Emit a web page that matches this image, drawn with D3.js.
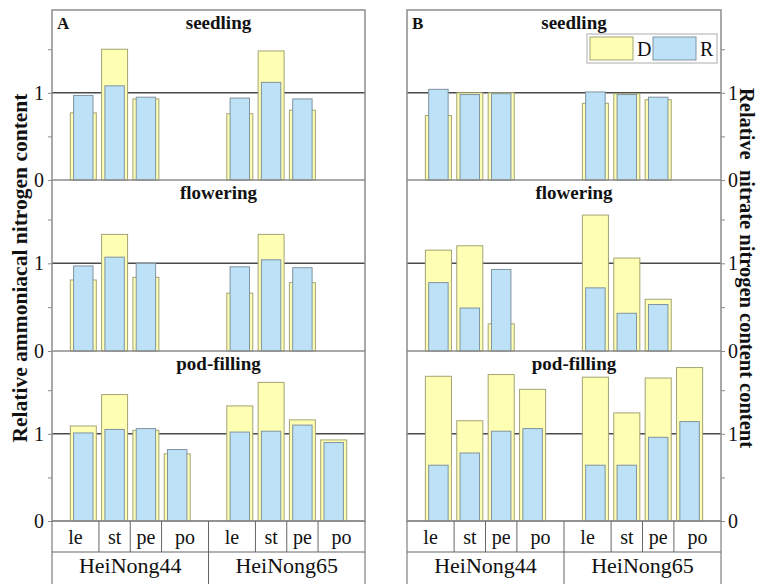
<!DOCTYPE html>
<html>
<head>
<meta charset="utf-8">
<script src="https://cdn.jsdelivr.net/npm/d3@7"></script>
<style>
  body { margin: 0; background: #fff; }
  text { font-family: "Liberation Serif", "Times New Roman", serif; fill: #111; }
</style>
</head>
<body>
<div id="chart"></div>
<script>
// categories
const organs = ["le", "st", "pe", "po"];
const cultivars = ["HeiNong44", "HeiNong65"];
const stages = ["seedling", "flowering", "pod-filling"];
const panels = ["A", "B"];
const seriesNames = ["D", "R"];
const tickVals = [0, 0.5, 1, 1.5];

// relative ammoniacal nitrogen (panel A), order: HN44 le st pe po, HN65 le st pe po
const ammD_seedling  = [0.77, 1.50, 0.93, null, 0.76, 1.48, 0.80, null];
const ammR_seedling  = [0.97, 1.08, 0.95, null, 0.94, 1.12, 0.93, null];
const ammD_flowering = [0.81, 1.33, 0.84, null, 0.66, 1.33, 0.78, null];
const ammR_flowering = [0.97, 1.07, 1.00, null, 0.96, 1.04, 0.95, null];
const ammD_podfill   = [1.09, 1.45, 1.04, 0.77, 1.32, 1.59, 1.16, 0.93];
const ammR_podfill   = [1.01, 1.05, 1.06, 0.82, 1.02, 1.03, 1.10, 0.90];

// relative nitrate nitrogen (panel B)
const nitD_seedling  = [0.74, 1.00, 1.00, null, 0.88, 0.99, 0.92, null];
const nitR_seedling  = [1.04, 0.98, 0.99, null, 1.01, 0.98, 0.95, null];
const nitD_flowering = [1.15, 1.20, 0.31, null, 1.55, 1.06, 0.59, null];
const nitR_flowering = [0.78, 0.49, 0.93, null, 0.72, 0.43, 0.53, null];
const nitD_podfill   = [1.66, 1.15, 1.68, 1.51, 1.65, 1.24, 1.64, 1.76];
const nitR_podfill   = [0.64, 0.78, 1.03, 1.06, 0.64, 0.64, 0.96, 1.14];

const panelData = [
  [[ammD_seedling, ammR_seedling], [ammD_flowering, ammR_flowering], [ammD_podfill, ammR_podfill]],
  [[nitD_seedling, nitR_seedling], [nitD_flowering, nitR_flowering], [nitD_podfill, nitR_podfill]]
];

const W = 757, H = 584;
const colD = "#ffffb4", strokeD = "#a3a374";
const colR = "#bde1f7", strokeR = "#8093a0";
const frameCol = "#8c8c8c";

const svg = d3.select("#chart").append("svg")
  .attr("width", W).attr("height", H);

const panelX = [[52, 365], [407, 721]];
const rowTop = [10, 180, 351], rowBot = [180, 351, 521];
const tableRow1 = 552, tableBottom = 600;

// slot index: cultivar * 5 + organ
const slotOf = i => Math.floor(i / 4) * 5 + (i % 4);

panels.forEach((pName, p) => {
  const x = d3.scaleLinear().domain([-1, 9]).range(panelX[p]);
  const slotW = x(1) - x(0);
  const wD = slotW * 0.83, wR = slotW * 0.62;

  stages.forEach((stage, s) => {
    const y = d3.scaleLinear().domain([0, 1.95]).range([rowBot[s], rowTop[s]]);
    const g = svg.append("g");

    // reference line at 1
    g.append("line")
      .attr("x1", x(-1)).attr("x2", x(9))
      .attr("y1", y(1)).attr("y2", y(1))
      .attr("stroke", "#4a4a4a").attr("stroke-width", 1.5);

    const [dVals, rVals] = panelData[p][s];
    const pts = dVals.map((d, i) => ({ i, d, r: rVals[i] })).filter(o => o.d != null);

    g.selectAll("rect.d").data(pts).join("rect")
      .attr("class", "d")
      .attr("x", o => x(slotOf(o.i)) - wD / 2)
      .attr("width", wD)
      .attr("y", o => y(o.d))
      .attr("height", o => y(0) - y(o.d))
      .attr("fill", colD).attr("stroke", strokeD).attr("stroke-width", 1);

    g.selectAll("rect.r").data(pts).join("rect")
      .attr("class", "r")
      .attr("x", o => x(slotOf(o.i)) - wR / 2)
      .attr("width", wR)
      .attr("y", o => y(o.r))
      .attr("height", o => y(0) - y(o.r))
      .attr("fill", colR).attr("stroke", strokeR).attr("stroke-width", 1);

    // stage title
    g.append("text")
      .attr("x", (panelX[p][0] + panelX[p][1]) / 2 + 10)
      .attr("y", rowTop[s] + 19)
      .attr("text-anchor", "middle")
      .attr("font-weight", "bold").attr("font-size", 19)
      .text(stage);

    // axes
    if (p === 0) {
      const ax = g.append("g").attr("transform", `translate(${x(-1)},0)`)
        .call(d3.axisLeft(y).tickValues(tickVals).tickSize(4).tickPadding(4)
          .tickFormat(v => Number.isInteger(v) ? v : ""));
      ax.select(".domain").remove();
      ax.selectAll("line").attr("stroke", frameCol);
      ax.selectAll("text").attr("font-size", 20).attr("font-family", "Liberation Serif").attr("fill", "#111");
    } else {
      const ax = g.append("g").attr("transform", `translate(${x(9)},0)`)
        .call(d3.axisRight(y).tickValues(tickVals).tickSize(4).tickPadding(3)
          .tickFormat(v => Number.isInteger(v) ? v : ""));
      ax.select(".domain").remove();
      ax.selectAll("line").attr("stroke", frameCol);
      ax.selectAll("text").attr("font-size", 20).attr("font-family", "Liberation Serif").attr("fill", "#111");
    }
  });

  // frame and row separators
  svg.append("rect")
    .attr("x", x(-1)).attr("y", rowTop[0])
    .attr("width", x(9) - x(-1)).attr("height", rowBot[2] - rowTop[0])
    .attr("fill", "none").attr("stroke", frameCol).attr("stroke-width", 1.5);
  rowBot.forEach(yy => {
    svg.append("line").attr("x1", x(-1)).attr("x2", x(9))
      .attr("y1", yy).attr("y2", yy)
      .attr("stroke", frameCol).attr("stroke-width", 1.5);
  });

  // panel letter
  svg.append("text")
    .attr("x", x(-1) + 5).attr("y", rowTop[0] + 19)
    .attr("font-weight", "bold").attr("font-size", 17)
    .text(pName);

  // category table
  const tbl = svg.append("g");
  const vLines1 = [0.5, 1.5, 2.5, 5.5, 6.5, 7.5];
  vLines1.forEach(v => {
    tbl.append("line").attr("x1", x(v)).attr("x2", x(v))
      .attr("y1", rowBot[2]).attr("y2", tableRow1)
      .attr("stroke", "#666").attr("stroke-width", 1);
  });
  [-1, 4, 9].forEach(v => {
    tbl.append("line").attr("x1", x(v)).attr("x2", x(v))
      .attr("y1", rowBot[2]).attr("y2", tableBottom)
      .attr("stroke", "#666").attr("stroke-width", 1);
  });
  tbl.append("line").attr("x1", x(-1)).attr("x2", x(9))
    .attr("y1", tableRow1).attr("y2", tableRow1)
    .attr("stroke", "#666").attr("stroke-width", 1);

  const organCenters = [(-1 + 0.5) / 2, 1, 2, (2.5 + 4) / 2];
  cultivars.forEach((cv, c) => {
    organs.forEach((o, k) => {
      tbl.append("text")
        .attr("x", x(organCenters[k] + c * 5))
        .attr("y", 544)
        .attr("text-anchor", "middle").attr("font-size", 20)
        .text(o);
    });
    tbl.append("text")
      .attr("x", x(c * 5 + 1.5))
      .attr("y", 573)
      .attr("text-anchor", "middle").attr("font-size", 22)
      .text(cv);
  });
});

// axis titles
svg.append("text")
  .attr("transform", "translate(27,268) rotate(-90)")
  .attr("text-anchor", "middle")
  .attr("font-weight", "bold").attr("font-size", 21.5)
  .text("Relative ammoniacal nitrogen content");

svg.append("text")
  .attr("transform", "translate(740,88) rotate(90)")
  .attr("text-anchor", "start")
  .attr("font-weight", "bold").attr("font-size", 20.5)
  .style("white-space", "pre")
  .text("Relative  nitrate nitrogen content content");

// legend
const leg = svg.append("g");
leg.append("rect").attr("x", 587).attr("y", 34).attr("width", 130).attr("height", 29)
  .attr("fill", "#fff").attr("stroke", "#c8c8c8").attr("stroke-width", 1.5);
const legItems = [
  { name: seriesNames[0], fill: colD, stroke: strokeD, x: 590 },
  { name: seriesNames[1], fill: colR, stroke: strokeR, x: 653 }
];
legItems.forEach(it => {
  leg.append("rect").attr("x", it.x).attr("y", 37).attr("width", 43).attr("height", 23)
    .attr("fill", it.fill).attr("stroke", it.stroke).attr("stroke-width", 1);
  leg.append("text").attr("x", it.x + 47).attr("y", 56)
    .attr("font-size", 20).text(it.name);
});
</script>
</body>
</html>
